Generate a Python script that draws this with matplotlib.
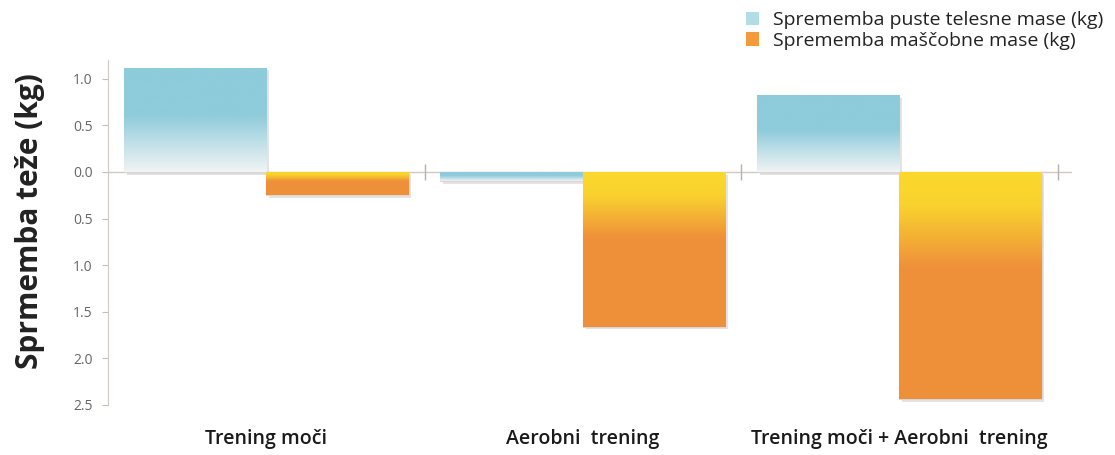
import numpy as np
import matplotlib
matplotlib.use("Agg")
import matplotlib.pyplot as plt
from matplotlib.colors import LinearSegmentedColormap
from matplotlib.patches import Patch
from matplotlib.ticker import FuncFormatter
import matplotlib.patheffects as pe

plt.rcParams['font.family'] = ['Open Sans', 'DejaVu Sans']

categories = ['Trening moči', 'Aerobni  trening', 'Trening moči + Aerobni  trening']
lean_mass = [1.12, -0.10, 0.82]     # sprememba puste telesne mase (kg)
fat_mass = [-0.25, -1.66, -2.44]    # sprememba maščobne mase (kg)
series_labels = ['Sprememba puste telesne mase (kg)', 'Sprememba maščobne mase (kg)']
yticks = [1.0, 0.5, 0.0, -0.5, -1.0, -1.5, -2.0, -2.5]

blue_cmap = LinearSegmentedColormap.from_list(
    'blue', [(0.0, '#8ecbdb'), (0.45, '#8ecbdb'), (1.0, '#f1f4f4')])
orange_cmap = LinearSegmentedColormap.from_list(
    'orange', [(0.0, '#fbd92c'), (0.15, '#f9d22e'), (0.42, '#ef913a'), (1.0, '#ee8f3a')])

fig = plt.figure(figsize=(11.15, 4.55), dpi=100)
ax = fig.add_axes([0.0969, 0.110, 0.8646, 0.758])

x = np.arange(len(categories))
width = 0.45


def gradient_bars(xpos, values, cmap):
    bars = ax.bar(xpos, values, width, facecolor='none', edgecolor='#ddd5d0',
                  linewidth=0.8, zorder=3,
                  path_effects=[pe.SimplePatchShadow(offset=(2, -2), alpha=0.15),
                                pe.Normal()])
    for bar, v in zip(bars, values):
        grad = np.linspace(0, 1, 256).reshape(-1, 1)
        x0 = bar.get_x()
        im = ax.imshow(grad, cmap=cmap, aspect='auto', origin='upper',
                       extent=[x0, x0 + width, min(v, 0), max(v, 0)], zorder=4)
        im.set_clip_path(bar)
    return bars


# lean mass fades out towards zero, fat mass starts yellow at zero
gradient_bars(x - width / 2, lean_mass, blue_cmap)
gradient_bars(x + width / 2, fat_mass, orange_cmap)

ax.set_xlim(-0.5, 2.546)
ax.set_ylim(-2.5, 1.2)

# zero line with category separators
ax.axhline(0, color='#d2c8c4', linewidth=1.0, zorder=2)
ax.plot([0.5, 1.5, 2.5], [0, 0, 0], linestyle='none', marker='|',
        markersize=11, color='#b8b0ac', zorder=2)

for side in ['top', 'right', 'bottom']:
    ax.spines[side].set_visible(False)
ax.spines['left'].set_color('#d2c8c4')
ax.spines['left'].set_bounds(-2.5, 1.2)

ax.set_yticks(yticks)
ax.yaxis.set_major_formatter(FuncFormatter(lambda v, p: f'{abs(v):.1f}'))
ax.tick_params(axis='y', length=4, color='#c9bdb8', labelcolor='#666666',
               labelsize=10, pad=7)

ax.set_xticks(x)
ax.set_xticklabels(categories, fontsize=14, fontweight='semibold', color='#1a1a1a')
ax.tick_params(axis='x', length=0, pad=17)

fig.text(0.027, 0.515, 'Sprmemba teže (kg)', rotation=90, fontsize=21.5,
         fontweight='bold', color='#222222', ha='center', va='center')

handles = [Patch(facecolor='#b3dde6', edgecolor='none'),
           Patch(facecolor='#f39b3b', edgecolor='none')]
fig.legend(handles, series_labels, loc='upper left',
           bbox_to_anchor=(0.653, 1.014), frameon=False, fontsize=14,
           handlelength=0.7, handleheight=0.7, handletextpad=0.7,
           labelspacing=0.15, labelcolor='#222222')

fig.savefig('out.png', dpi=100)
